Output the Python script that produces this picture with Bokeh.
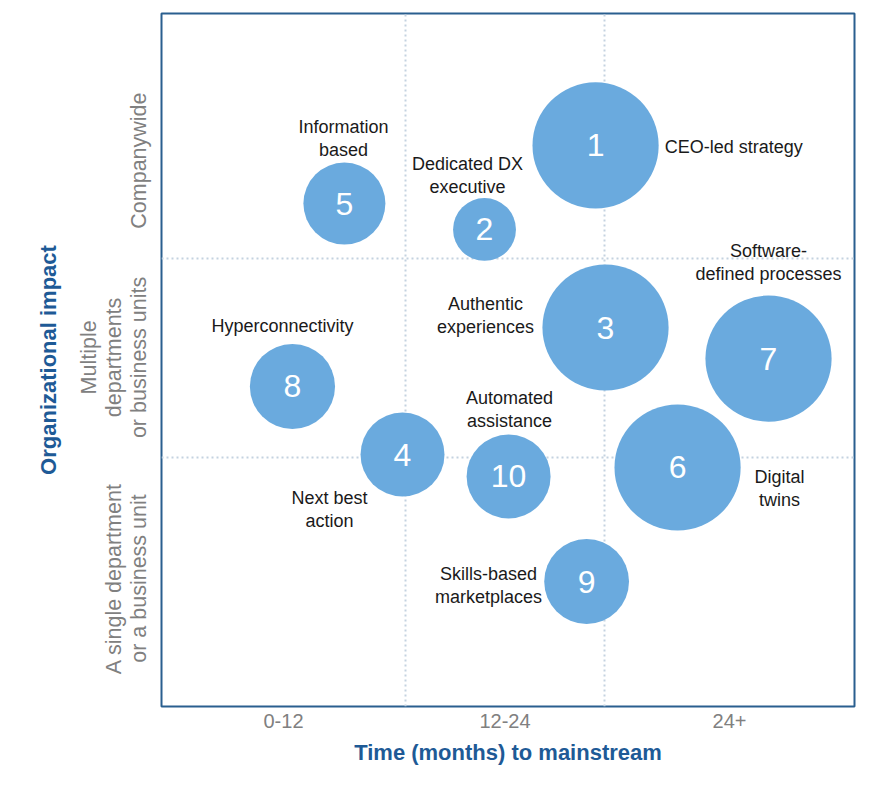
import math
from bokeh.plotting import figure
from bokeh.models import ColumnDataSource, FixedTicker, Range1d
from bokeh.core.properties import value
from bokeh.embed import file_html
from bokeh.resources import INLINE

# ---- data ----
bubble_ids = ["1", "2", "3", "4", "5", "6", "7", "8", "9", "10"]
bubble_names = [
    "CEO-led strategy",
    "Dedicated DX\nexecutive",
    "Authentic\nexperiences",
    "Next best\naction",
    "Information\nbased",
    "Digital\ntwins",
    "Software-\ndefined processes",
    "Hyperconnectivity",
    "Skills-based\nmarketplaces",
    "Automated\nassistance",
]
time_to_mainstream = [1.955, 1.397, 2.005, 0.985, 0.693, 2.367, 2.824, 0.432, 1.910, 1.518]
org_impact = [2.568, 2.146, 1.653, 1.015, 2.276, 0.950, 1.497, 1.357, 0.377, 0.905]
bubble_size = [0.317, 0.158, 0.317, 0.211, 0.206, 0.317, 0.317, 0.214, 0.213, 0.211]

label_x = [2.302, 1.312, 1.402, 0.618, 0.688, 2.879, 2.824, 0.382, 1.417, 1.523]
label_y = [2.558, 2.415, 1.716, 0.741, 2.601, 0.842, 1.982, 1.663, 0.357, 1.239]
label_align = ["left", "center", "center", "center", "center", "center", "center", "center", "center", "center"]

time_categories = ["0-12", "12-24", "24+"]
time_category_pos = [0.387, 1.5, 2.628]
time_boundaries = [1, 2]

impact_categories = ["Companywide", "Multiple\ndepartments\nor business units",
                     "A single department\nor a business unit"]
impact_category_pos = [2.492, 1.503, 0.392]
impact_boundaries = [1, 2]

BUBBLE = "#6aaade"
BLUE = "#1e5a96"
GRAY = "#808080"
FONT = "Liberation Sans"

p = figure(
    frame_width=693, frame_height=693,
    x_range=Range1d(-0.226, 3.256), y_range=Range1d(-0.251, 3.231),
    min_border_left=161, min_border_right=20, min_border_top=13, min_border_bottom=70,
    toolbar_location=None, output_backend="svg",
)
p.background_fill_color = "white"
p.border_fill_color = "white"
p.outline_line_color = "#2a5f8f"
p.outline_line_width = 2

# grid (quadrant dividers)
p.xgrid.ticker = FixedTicker(ticks=time_boundaries)
p.ygrid.ticker = FixedTicker(ticks=impact_boundaries)
for g in (p.xgrid, p.ygrid):
    g.grid_line_color = "#c4d2e0"
    g.grid_line_width = 2
    g.grid_line_dash = "2 3"

for ax in (p.xaxis, p.yaxis):
    ax.axis_line_color = None
    ax.major_tick_line_color = None
    ax.minor_tick_line_color = None
    ax.major_tick_out = 0
    ax.major_tick_in = 0
    ax.major_label_text_font = FONT
    ax.major_label_text_color = GRAY
    ax.axis_label_text_font = FONT
    ax.axis_label_text_font_style = "bold"
    ax.axis_label_text_color = BLUE

# x axis
p.xaxis.ticker = FixedTicker(ticks=time_category_pos)
p.xaxis.major_label_overrides = {k: v for k, v in zip(time_category_pos, time_categories)}
p.xaxis.major_label_standoff = 7
p.xaxis.major_label_text_font_size = "20px"
p.xaxis.axis_label = "Time (months) to mainstream"
p.xaxis.axis_label_text_font_size = "22px"
p.xaxis.axis_label_standoff = 9

# y axis
p.yaxis.ticker = FixedTicker(ticks=impact_category_pos)
p.yaxis.major_label_overrides = {k: v for k, v in zip(impact_category_pos, impact_categories)}
p.yaxis.major_label_orientation = "vertical"
p.yaxis.major_label_standoff = 10
p.yaxis.major_label_text_font_size = "21.5px"
p.yaxis.major_label_text_line_height = 1.05
p.yaxis.axis_label = "Organizational impact"
p.yaxis.axis_label_text_font_size = "22px"
p.yaxis.axis_label_standoff = 13

# bubbles
src = ColumnDataSource(dict(
    x=time_to_mainstream, y=org_impact, r=bubble_size, ids=bubble_ids,
    names=bubble_names, lx=label_x, ly=label_y, la=label_align,
))
p.circle(x="x", y="y", radius="r", source=src, fill_color=BUBBLE, line_color=None)
p.text(x="x", y="y", text="ids", source=src, text_color="white",
       text_font=value(FONT), text_font_size="32px",
       text_align="center", text_baseline="middle")
p.text(x="lx", y="ly", text="names", source=src, text_color="#1a1a1a",
       text_font=value(FONT), text_font_size="18px", text_line_height=1.15,
       text_align="la", text_baseline="middle")

open("out.html", "w").write(file_html(p, INLINE))
